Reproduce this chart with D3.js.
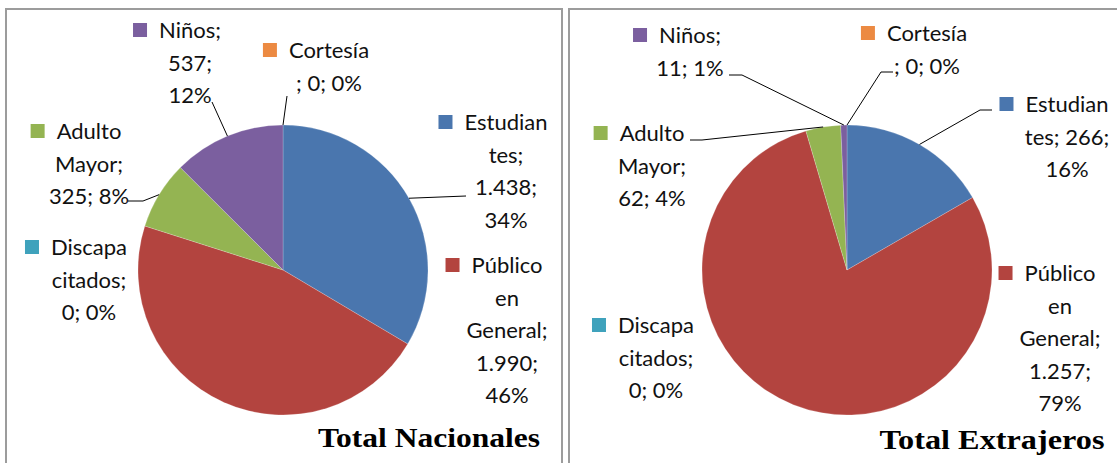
<!DOCTYPE html>
<html lang="es">
<head>
<meta charset="UTF-8">
<title>Total Nacionales / Total Extrajeros</title>
<script src="https://d3js.org/d3.v7.min.js"></script>
<style>
  body { margin: 0; background: #fff; }
  svg { display: block; }
  .lbl { font-family: Lato, "Open Sans", sans-serif; font-size: 22px; fill: #111; }
  .ttl { font-family: "Liberation Serif", "Times New Roman", serif; font-weight: bold; font-size: 27px; fill: #000; }
</style>
</head>
<body>
<svg id="chart" width="1117" height="463"></svg>
<script>
// categorías (orden de Excel, desde las 12 en sentido horario)
const categorias = ["Estudiantes", "Público en General", "Discapacitados", "Adulto Mayor", "Niños", "Cortesía"];
const colores = ["#4a76ae", "#b3443f", "#3fa2bc", "#94b452", "#7b5f9f", "#ec8a42"];

// valores
const nacionales = [1438, 1990, 0, 325, 537, 0];
const nacionalesPct = [34, 46, 0, 8, 12, 0];
const extranjeros = [266, 1257, 0, 62, 11, 0];
const extranjerosPct = [16, 79, 0, 4, 1, 0];

const titulos = ["Total Nacionales", "Total Extrajeros"];

// número con punto de miles
const loc = d3.formatLocale({ decimal: ",", thousands: ".", grouping: [3], currency: ["", ""] });
const fmt = loc.format(",d");

// posición de cada etiqueta: centro del texto, primera línea, largo de líneas, guía
const layouts = [
  {
    cx: 283, cy: 270, r: 145, box: [6, 9, 556, 470], title: [429, 447, 222],
    labels: [
      { x: 506, y: 122, lines: [8, 4, 6, 3], lead: [[466, 196]] },
      { x: 507, y: 265, lines: [7, 2, 8, 6, 3] },
      { x: 89, y: 247, lines: [7, 8, 5] },
      { x: 89, y: 131, lines: [6, 6, 7], lead: [[128, 201], [143, 201]] },
      { x: 190, y: 30, lines: [6, 4, 3], lead: [[212, 102]] },
      { x: 329, y: 50, lines: [8, 7], lead: [[287, 96]] }
    ]
  },
  {
    cx: 847, cy: 270, r: 145, box: [569, 9, 560, 470], title: [992, 449, 225],
    labels: [
      { x: 1067, y: 104, lines: [8, 9, 3], lead: [[992, 110], [980, 110]] },
      { x: 1060, y: 273, lines: [7, 2, 8, 6, 3] },
      { x: 656, y: 325, lines: [7, 8, 5] },
      { x: 652, y: 133, lines: [6, 6, 6], lead: [[690, 140], [702, 140]] },
      { x: 690, y: 35, lines: [6, 6], lead: [[729, 75], [742, 75]] },
      { x: 927, y: 33, lines: [8, 7], lead: [[893, 72], [881, 72]] }
    ]
  }
];

// corta el texto completo en líneas según el número de caracteres
function splitLines(text, lens) {
  const out = [];
  let i = 0;
  lens.forEach(n => {
    while (text[i] === " ") i++;
    out.push(text.slice(i, i + n));
    i += n;
  });
  return out;
}

const svg = d3.select("#chart");
const pie = d3.pie().sort(null).value(d => d);
const lineH = 32.5;

[[nacionales, nacionalesPct], [extranjeros, extranjerosPct]].forEach(([vals, pcts], k) => {
  const L = layouts[k];
  const g = svg.append("g");

  g.append("rect")
    .attr("x", L.box[0]).attr("y", L.box[1])
    .attr("width", L.box[2]).attr("height", L.box[3])
    .attr("fill", "#fff").attr("stroke", "#9c9c9c").attr("stroke-width", 2);

  const arcs = pie(vals);
  const arc = d3.arc().innerRadius(0).outerRadius(L.r);

  const pg = g.append("g").attr("transform", `translate(${L.cx},${L.cy})`);
  pg.selectAll("path")
    .data(arcs)
    .enter()
    .append("path")
    .attr("d", arc)
    .attr("fill", (d, i) => colores[i])
    .attr("stroke", (d, i) => d.value > 0 ? "rgba(255,255,255,0.25)" : "none")
    .attr("stroke-width", 0.8);

  // líneas guía
  arcs.forEach((a, i) => {
    const lab = L.labels[i];
    if (!lab.lead) return;
    const mid = (a.startAngle + a.endAngle) / 2;
    const px = L.cx + L.r * Math.sin(mid);
    const py = L.cy - L.r * Math.cos(mid);
    const pts = lab.lead.concat([[px, py]]);
    g.append("polyline")
      .attr("points", pts.map(p => p.join(",")).join(" "))
      .attr("fill", "none")
      .attr("stroke", "#000")
      .attr("stroke-width", 1);
  });

  // etiquetas
  arcs.forEach((a, i) => {
    const lab = L.labels[i];
    const full = `${categorias[i]}; ${fmt(vals[i])}; ${pcts[i]}%`;
    const lines = splitLines(full, lab.lines);
    const tg = g.append("g");
    let firstLeft = null;
    lines.forEach((ln, j) => {
      const t = tg.append("text")
        .attr("class", "lbl")
        .attr("x", lab.x)
        .attr("y", lab.y + j * lineH + 8)
        .attr("text-anchor", "middle")
        .text(ln);
      if (j === 0) firstLeft = lab.x - t.node().getComputedTextLength() / 2;
    });
    tg.insert("rect", "text")
      .attr("x", firstLeft - 26).attr("y", lab.y - 7)
      .attr("width", 14).attr("height", 14)
      .attr("fill", colores[i]);
  });

  g.append("text")
    .attr("class", "ttl")
    .attr("x", L.title[0]).attr("y", L.title[1])
    .attr("text-anchor", "middle")
    .attr("textLength", L.title[2])
    .attr("lengthAdjust", "spacingAndGlyphs")
    .text(titulos[k]);
});
</script>
</body>
</html>
